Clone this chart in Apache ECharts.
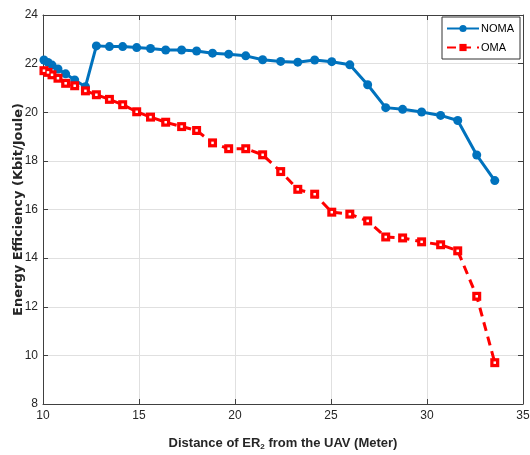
<!DOCTYPE html>
<html>
<head>
<meta charset="utf-8">
<script src="https://cdn.jsdelivr.net/npm/echarts@6/dist/echarts.min.js"></script>
<style>
  html, body { margin: 0; padding: 0; background: #fff; }
  #chart { width: 530px; height: 455px; }
</style>
</head>
<body>
<div id="chart"></div>
<script>
/* data */
var distance = [10.05, 10.26, 10.47, 10.78, 11.18, 11.65, 12.21, 12.78, 13.46, 14.15, 14.88, 15.6,
  16.39, 17.22, 18.0, 18.83, 19.67, 20.56, 21.44, 22.38, 23.27, 24.15, 25.04, 25.98,
  26.91, 27.85, 28.73, 29.72, 30.71, 31.6, 32.59, 33.53];
var noma = [22.15, 22.05, 21.94, 21.78, 21.58, 21.33, 21.05, 22.73, 22.70, 22.70, 22.66, 22.62,
  22.56, 22.56, 22.52, 22.43, 22.39, 22.32, 22.16, 22.09, 22.06, 22.15, 22.08, 21.95,
  21.13, 20.19, 20.12, 20.01, 19.87, 19.66, 18.24, 17.19];
var oma = [21.71, 21.64, 21.54, 21.40, 21.19, 21.09, 20.88, 20.72, 20.53, 20.31, 20.02, 19.80,
  19.59, 19.41, 19.25, 18.74, 18.50, 18.50, 18.25, 17.56, 16.83, 16.63, 15.89, 15.81,
  15.53, 14.87, 14.83, 14.67, 14.55, 14.30, 12.43, 9.70];
var seriesNames = ['NOMA', 'OMA'];

function pairs(ys){
  return distance.map(function(x, i){ return [x, ys[i]]; });
}

var font = '"Liberation Sans", Arial, sans-serif';
var axisColor = '#404040';
var gridColor = '#e0e0e0';

var chart = echarts.init(document.getElementById('chart'));
chart.setOption({
  animation: false,
  grid: { left: 43, right: 7, top: 15, bottom: 51, containLabel: false, outerBoundsMode: 'none' },
  legend: {
    data: seriesNames,
    orient: 'vertical',
    right: 10,
    top: 17,
    itemWidth: 32,
    itemHeight: 9,
    itemGap: 8,
    padding: [6, 6, 6, 4],
    borderColor: '#333',
    borderWidth: 1,
    borderRadius: 0,
    backgroundColor: '#fff',
    textStyle: { fontFamily: font, fontSize: 11, color: '#000', padding: [0, 0, 0, -3] }
  },
  xAxis: [{
    type: 'value',
    min: 10, max: 35, interval: 5,
    name: 'Distance of ER{sub|2} from the UAV (Meter)',
    nameLocation: 'middle',
    nameGap: 31,
    nameTextStyle: {
      fontFamily: font, fontSize: 13, fontWeight: 'bold', color: '#262626',
      rich: { sub: { fontFamily: font, fontSize: 8, fontWeight: 'bold', color: '#262626', verticalAlign: 'bottom', padding: [8, 0, 0, 0] } }
    },
    axisLine: { show: true, lineStyle: { color: axisColor, width: 1 } },
    axisTick: { show: true, inside: true, length: 5, lineStyle: { color: axisColor } },
    axisLabel: { fontFamily: font, fontSize: 12, color: '#262626', margin: 6 },
    splitLine: { show: true, lineStyle: { color: gridColor, width: 1 } }
  }, {
    type: 'value', position: 'top',
    min: 10, max: 35, interval: 5,
    axisLine: { show: true, lineStyle: { color: axisColor, width: 1 } },
    axisTick: { show: true, inside: true, length: 5, lineStyle: { color: axisColor } },
    axisLabel: { show: false },
    splitLine: { show: false }
  }],
  yAxis: [{
    type: 'value',
    min: 8, max: 24, interval: 2,
    name: 'Energy Efficiency (Kbit/Joule)',
    nameLocation: 'middle',
    nameGap: 18,
    nameMoveOverlap: false,
    nameTextStyle: { fontFamily: '"DejaVu Sans", sans-serif', fontSize: 13, fontWeight: 'bold', color: '#262626' },
    axisLine: { show: true, lineStyle: { color: axisColor, width: 1 } },
    axisTick: { show: true, inside: true, length: 5, lineStyle: { color: axisColor } },
    axisLabel: { fontFamily: font, fontSize: 12, color: '#262626', margin: 5 },
    splitLine: { show: true, lineStyle: { color: gridColor, width: 1 } }
  }, {
    type: 'value', position: 'right',
    min: 8, max: 24, interval: 2,
    axisLine: { show: true, lineStyle: { color: axisColor, width: 1 } },
    axisTick: { show: true, inside: true, length: 5, lineStyle: { color: axisColor } },
    axisLabel: { show: false },
    splitLine: { show: false }
  }],
  series: [{
    name: seriesNames[0],
    type: 'line',
    data: pairs(noma),
    color: '#0072BD',
    symbol: 'circle',
    symbolSize: 9,
    lineStyle: { width: 3, color: '#0072BD' },
    itemStyle: { color: '#0072BD' }
  }, {
    name: seriesNames[1],
    type: 'line',
    data: pairs(oma),
    color: '#FF0000',
    symbol: 'rect',
    symbolSize: 9,
    lineStyle: { width: 3, color: '#FF0000', type: [9, 6] },
    itemStyle: { color: '#FF0000' }
  }, {
    // small white centre of the hollow square markers
    name: 'OMA centre',
    type: 'line',
    data: pairs(oma),
    symbol: 'rect',
    symbolSize: 2.5,
    showSymbol: true,
    silent: true,
    lineStyle: { width: 0, opacity: 0 },
    itemStyle: { color: '#fff' }
  }]
});
</script>
</body>
</html>
